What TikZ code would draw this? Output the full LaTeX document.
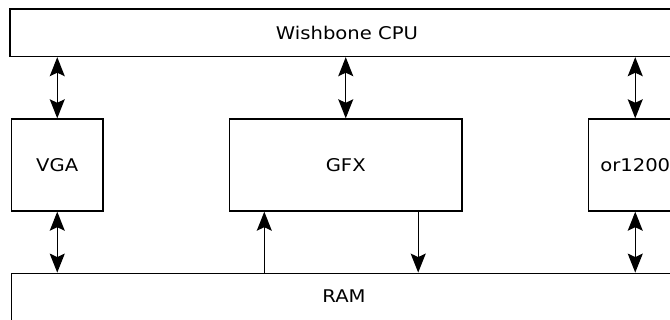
\documentclass[tikz,border=0pt]{standalone}
\usepackage{fontspec}
\setmainfont{DejaVu Sans}[FakeStretch=1.12]
\usetikzlibrary{arrows.meta,positioning,calc}

\begin{document}
\begin{tikzpicture}[x=1pt, y=-1pt, >={Stealth[length=19pt,width=15pt,inset=3.5pt]},
  line width=1.4pt, font=\fontsize{17.5}{20}\selectfont,
  blk/.style={draw, rectangle, inner sep=0pt}]
  \useasboundingbox (0,0) rectangle (670,320);
  \clip (0,0) rectangle (670,320);

  \node[blk, minimum width=674pt, minimum height=47.5pt] (cpu) at (347,32.75) {Wishbone CPU};

  \node[blk, minimum width=91.5pt, minimum height=92pt] (vga) at (57.25,165) {VGA};
  \node[blk, minimum width=232.5pt, minimum height=92pt] (gfx) at (345.75,165) {GFX};
  \node[blk, minimum width=93.5pt, minimum height=92pt] (or) at (635.25,165) {or1200};

  \node[blk, minimum width=672.5pt, minimum height=52pt] (ram) at (347.75,299.3) {};
  \node (ramtxt) at (344,296.5) {RAM};

  % bus to cpu
  \draw[<->] (vga.north |- cpu.south) -- (vga.north);
  \draw[<->] (gfx.north |- cpu.south) -- (gfx.north);
  \draw[<->] (or.north |- cpu.south) -- (or.north);

  % bus to ram
  \draw[<->] (vga.south) -- (vga.south |- ram.north);
  \coordinate (gin) at ($(gfx.south west)+(35.5,0)$);
  \coordinate (gout) at ($(gfx.south east)+(-44.5,0)$);
  \draw[->] (gin |- ram.north) -- (gin);
  \draw[->] (gout) -- (gout |- ram.north);
  \draw[<->] (or.south) -- (or.south |- ram.north);
\end{tikzpicture}
\end{document}
